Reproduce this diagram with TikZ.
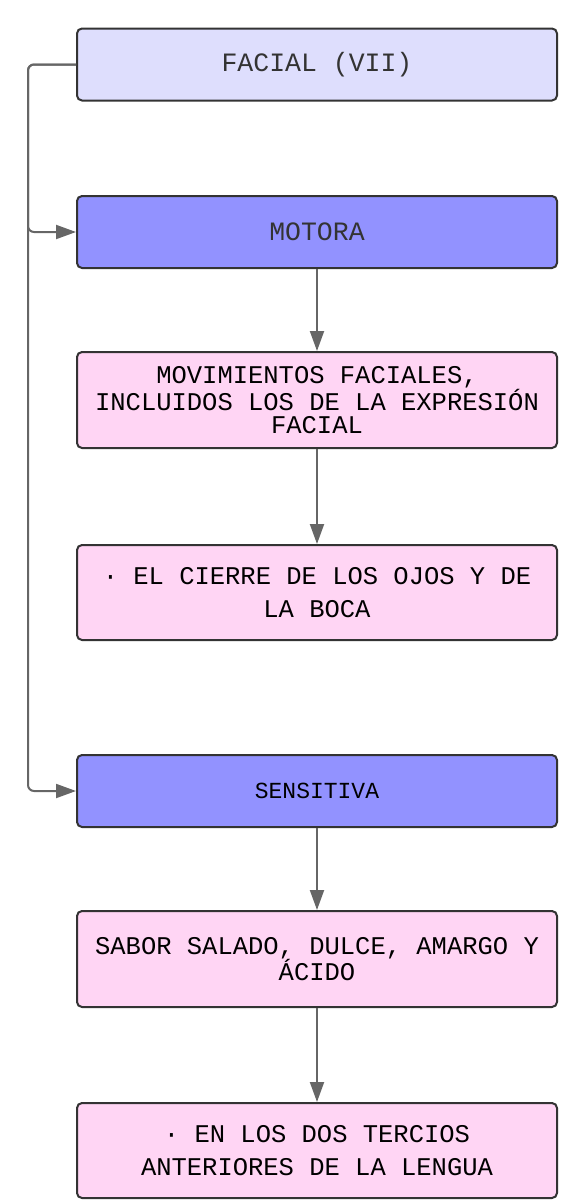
\documentclass[tikz,border=0pt]{standalone}
\usepackage{fontspec}
\setmonofont{Liberation Mono}
\newfontfamily\boxfont{Liberation Mono}
\usetikzlibrary{arrows.meta}
\definecolor{lav}{HTML}{DEDEFD}
\definecolor{blu}{HTML}{9292FF}
\definecolor{pnk}{HTML}{FFD5F4}
\definecolor{edge}{HTML}{333333}
\definecolor{conncol}{HTML}{666666}
\tikzset{
  base/.style={draw=edge, line width=2pt, rounded corners=5pt, minimum width=480pt, align=center, inner sep=0pt},
  head/.style={base, minimum height=72pt, text=edge, font=\boxfont\fontsize{26.5}{30}\selectfont},
  pinkbox/.style={base, fill=pnk, text=black},
  conn/.style={draw=conncol, line width=2pt, -{Triangle[length=20pt,width=14pt]}},
}
\begin{document}
\begin{tikzpicture}[x=1pt,y=1pt]
\useasboundingbox (0,0) rectangle (586,-1200);
\node[head, fill=lav] (facial) at (317,-64.5) {FACIAL (VII)};
\node[head, fill=blu] (motora) at (317,-232) {MOTORA};
\node[pinkbox, minimum height=96pt, font=\boxfont\fontsize{25.5}{23}\selectfont] (mov) at (317,-400) {MOVIMIENTOS FACIALES,\\INCLUIDOS LOS DE LA EXPRESIÓN\\FACIAL};
\node[pinkbox, minimum height=95pt, font=\boxfont\fontsize{25.5}{32.5}\selectfont] (cierre) at (317,-592.5) {· EL CIERRE DE LOS OJOS Y DE\\LA BOCA};
\node[head, fill=blu, text=black, font=\boxfont\fontsize{23}{28}\selectfont] (sens) at (317,-791) {SENSITIVA};
\node[pinkbox, minimum height=96pt, font=\boxfont\fontsize{25.5}{24}\selectfont] (sabor) at (317,-959) {SABOR SALADO, DULCE, AMARGO Y\\ÁCIDO};
\node[pinkbox, minimum height=95pt, font=\boxfont\fontsize{25.5}{32.5}\selectfont] (lengua) at (317,-1150.5) {· EN LOS DOS TERCIOS\\ANTERIORES DE LA LENGUA};
\coordinate (bus) at (28,-64.5);
\draw[conn, rounded corners=6pt] (facial.west) -- (bus) |- (motora.west);
\draw[conn, rounded corners=6pt] (facial.west) -- (bus) |- (sens.west);
\draw[conn] (motora.south) -- (mov.north);
\draw[conn] (mov.south) -- (cierre.north);
\draw[conn] (sens.south) -- (sabor.north);
\draw[conn] (sabor.south) -- (lengua.north);
\end{tikzpicture}
\end{document}
